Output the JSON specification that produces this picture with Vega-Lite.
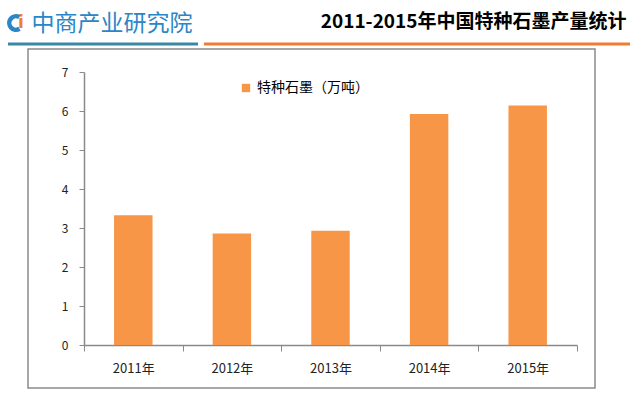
{
  "$schema": "https://vega.github.io/schema/vega-lite/v6.json",
  "width": 567,
  "height": 339,
  "autosize": "none",
  "padding": {"left": 28, "top": 49, "right": 45, "bottom": 11},
  "background": "white",
  "config": {
    "view": {"stroke": "#8a8a8a", "strokeWidth": 1.5},
    "font": "Noto Sans CJK SC"
  },
  "title": {
    "text": "2011-2015年中国特种石墨产量统计",
    "anchor": "end",
    "fontSize": 19,
    "fontWeight": "bold",
    "color": "#000000",
    "font": "Noto Sans CJK SC",
    "dx": -5,
    "dy": 34,
    "offset": 14
  },
  "data": {
    "values": [
      {"year": "2011年", "value": 3.33, "series": "特种石墨（万吨）"},
      {"year": "2012年", "value": 2.86, "series": "特种石墨（万吨）"},
      {"year": "2013年", "value": 2.93, "series": "特种石墨（万吨）"},
      {"year": "2014年", "value": 5.92, "series": "特种石墨（万吨）"},
      {"year": "2015年", "value": 6.14, "series": "特种石墨（万吨）"}
    ]
  },
  "layer": [
    {
      "mark": {"type": "bar", "width": {"band": 0.39}},
      "encoding": {
        "x": {
          "field": "year",
          "type": "nominal",
          "sort": null,
          "scale": {"range": [56, 549], "paddingInner": 0, "paddingOuter": 0},
          "axis": {
            "title": null,
            "offset": -43,
            "tickBand": "extent",
            "tickSize": 6,
            "tickColor": "#8a8a8a",
            "domainColor": "#8a8a8a",
            "domainWidth": 1.5,
            "labelAngle": 0,
            "labelFontSize": 13,
            "labelColor": "#222222",
            "labelPadding": 11
          }
        },
        "y": {
          "field": "value",
          "type": "quantitative",
          "scale": {"domain": [0, 7], "range": [296, 23], "nice": false, "zero": true},
          "axis": {
            "title": "中商产业研究院",
            "titleAngle": 0,
            "titleAlign": "left",
            "titleBaseline": "middle",
            "titleX": -53,
            "titleY": -26,
            "titleFontSize": 23,
            "titleFontWeight": "normal",
            "titleColor": "#2a86c6",
            "offset": -56,
            "values": [0, 1, 2, 3, 4, 5, 6, 7],
            "grid": false,
            "tickSize": 5,
            "tickColor": "#8a8a8a",
            "domainColor": "#8a8a8a",
            "domainWidth": 1.5,
            "labelFontSize": 12,
            "labelColor": "#222222",
            "labelPadding": 11
          }
        },
        "color": {
          "field": "series",
          "type": "nominal",
          "scale": {"range": ["#F79646"]},
          "legend": {
            "title": null,
            "orient": "none",
            "legendX": 211,
            "legendY": 32,
            "symbolType": "square",
            "symbolSize": 70,
            "symbolStrokeWidth": 0,
            "labelFontSize": 14,
            "labelColor": "#000000",
            "labelOffset": 4
          }
        }
      }
    },
    {
      "data": {"values": [{"part": "logo"}]},
      "mark": {"type": "arc", "color": "#2a86c6"},
      "encoding": {
        "x": {"value": -12},
        "y": {"value": -26},
        "theta": {"value": 2.6},
        "theta2": {"value": 6.8},
        "radius": {"value": 9},
        "radius2": {"value": 4.5}
      }
    },
    {
      "data": {"values": [{"part": "logo"}]},
      "mark": {"type": "text", "text": "i", "color": "#ef7d31", "fontSize": 17, "fontWeight": "bold", "font": "DejaVu Sans"},
      "encoding": {"x": {"value": -7}, "y": {"value": -26}}
    },
    {
      "data": {"values": [{"part": "blue"}]},
      "mark": {"type": "rule", "color": "#3a87a3", "strokeWidth": 3},
      "encoding": {"x": {"value": -20}, "x2": {"value": 170}, "y": {"value": -5}}
    },
    {
      "data": {"values": [{"part": "orange"}]},
      "mark": {"type": "rule", "color": "#ef7d31", "strokeWidth": 3},
      "encoding": {"x": {"value": 176}, "x2": {"value": 602}, "y": {"value": -5}}
    }
  ]
}
